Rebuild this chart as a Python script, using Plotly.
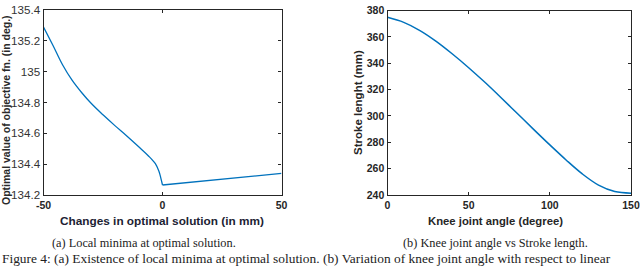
import plotly.graph_objects as go

# Panel (a): local minima at optimal solution
change_mm = [-50, -46, -42, -38, -34, -30, -25, -20, -15, -10, -6, -3, -1.5, -0.7, 0, 50]
objective_deg = [135.29, 135.17, 135.045, 134.945, 134.865, 134.795, 134.72, 134.65,
                 134.583, 134.513, 134.455, 134.403, 134.354, 134.31, 134.265, 134.34]

# Panel (b): knee joint angle vs stroke length
knee_angle = [0, 10, 20, 30, 40, 50, 60, 70, 80, 90, 100, 110, 120, 130, 140, 150]
stroke_mm = [374.8, 371.0, 364.8, 356.6, 347.0, 336.6, 325.5, 313.8, 301.8, 289.8,
             278.0, 266.6, 256.0, 247.5, 242.6, 241.4]

a_xticks = [-50, 0, 50]
a_yticks = [134.2, 134.4, 134.6, 134.8, 135, 135.2, 135.4]
a_ylabels = ["134.2", "134.4", "134.6", "134.8", "135", "135.2", "135.4"]
b_xticks = [0, 50, 100, 150]
b_yticks = [240, 260, 280, 300, 320, 340, 360, 380]

W, H = 640, 266
blue = "#0072BD"
ink = "#262626"

# split panel (a) at the minimum: smooth curve on the left, straight segment on the right
k = change_mm.index(0)

fig = go.Figure()
fig.add_trace(go.Scatter(x=change_mm[:k + 1], y=objective_deg[:k + 1], mode="lines",
                         line_shape="spline", line=dict(color=blue, width=1.3),
                         xaxis="x", yaxis="y", showlegend=False))
fig.add_trace(go.Scatter(x=change_mm[k:], y=objective_deg[k:], mode="lines",
                         line=dict(color=blue, width=1.3),
                         xaxis="x", yaxis="y", showlegend=False))
fig.add_trace(go.Scatter(x=knee_angle, y=stroke_mm, mode="lines", line_shape="spline",
                         line=dict(color=blue, width=1.5), xaxis="x2", yaxis="y2",
                         showlegend=False))


def px_x(p):
    return p / W


def px_y(p):
    return 1 - p / H


axis_common = dict(showgrid=False, zeroline=False, showline=True, linecolor=ink,
                   linewidth=1.2, mirror="ticks", ticks="inside", ticklen=3,
                   tickcolor=ink, automargin=False)

bold_small = dict(family="Liberation Sans", size=10.5, color=ink)

fig.update_layout(
    width=W, height=H, margin=dict(l=0, r=0, t=0, b=0, autoexpand=False),
    paper_bgcolor="white", plot_bgcolor="white",
    xaxis=dict(domain=[px_x(43.5), px_x(281.5)], range=[-50, 50], tickvals=a_xticks,
               ticktext=["<b>%d</b>" % v for v in a_xticks], tickfont=bold_small,
               anchor="y", **axis_common),
    yaxis=dict(domain=[px_y(195), px_y(10)], range=[134.2, 135.4], tickvals=a_yticks,
               ticktext=a_ylabels,
               tickfont=dict(family="Liberation Sans", size=11.6, color="#333"),
               ticklabelstandoff=0,
               anchor="x", **axis_common),
    xaxis2=dict(domain=[px_x(387.5), px_x(631)], range=[0, 150], tickvals=b_xticks,
                ticktext=["<b>%d</b>" % v for v in b_xticks], tickfont=bold_small,
                anchor="y2", **axis_common),
    yaxis2=dict(domain=[px_y(195), px_y(10.5)], range=[240, 380], tickvals=b_yticks,
                ticktext=["<b>%d</b>" % v for v in b_yticks], tickfont=bold_small,
                anchor="x2", **axis_common),
)

ann = [
    dict(text="<b>Optimal value of objective fn. (in deg.)</b>", x=px_x(-1), y=px_y(206),
         xanchor="left", yanchor="bottom", textangle=-90, borderpad=0,
         font=dict(family="Liberation Sans", size=10.5, color="#2a2a2a")),
    dict(text="<b>Stroke lenght (mm)</b>", x=px_x(358), y=px_y(103), textangle=-90,
         font=dict(family="Liberation Sans", size=11.5, color=ink)),
    dict(text="<b>Changes in optimal solution (in mm)</b>", x=px_x(162), y=px_y(221),
         font=dict(family="Liberation Sans", size=11.8, color="#1c2233")),
    dict(text="<b>Knee joint angle (degree)</b>", x=px_x(495), y=px_y(221),
         font=dict(family="Liberation Sans", size=11.3, color=ink)),
    dict(text="(a) Local minima at optimal solution.", x=px_x(143.5), y=px_y(242.5),
         font=dict(family="Liberation Serif", size=12.3, color="#222")),
    dict(text="(b) Knee joint angle vs Stroke length.", x=px_x(495), y=px_y(242.5),
         font=dict(family="Liberation Serif", size=12.3, color="#222")),
    dict(text="Figure 4: (a) Existence of local minima at optimal solution. (b) Variation of knee joint angle with respect to linear",
         x=px_x(0), y=px_y(258), xanchor="left",
         font=dict(family="Liberation Serif", size=13.4, color="#222")),
]
for a in ann:
    a.setdefault("xanchor", "center")
    a.setdefault("yanchor", "middle")
    fig.add_annotation(xref="paper", yref="paper", showarrow=False, **a)

# remove the page's default body margin so the figure sits at the window's top-left corner
fig.write_html("out.html", config={"displayModeBar": False},
               post_script="document.body.style.margin='0px';document.body.style.overflow='hidden';")
